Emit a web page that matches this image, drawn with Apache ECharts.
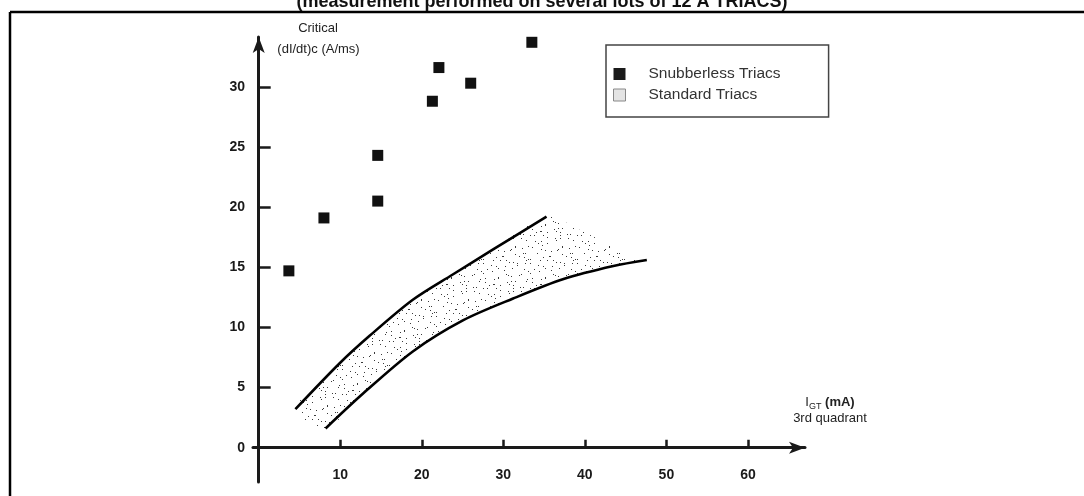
<!DOCTYPE html>
<html>
<head>
<meta charset="utf-8">
<script src="https://cdn.jsdelivr.net/npm/echarts@6/dist/echarts.min.js"></script>
<style>html,body{margin:0;padding:0;background:#fff;}#c{width:1084px;height:496px;}</style>
</head>
<body>
<div id="c"></div>
<script>
// ---- data ----
const titleText = '(measurement performed on several lots of 12 A TRIACS)';
const xTickValues = [10, 20, 30, 40, 50, 60];
const yTickValues = [0, 5, 10, 15, 20, 25, 30];
const seriesNames = ['Snubberless Triacs', 'Standard Triacs'];
// Snubberless triacs measurements (IGT mA, critical dI/dt A/ms)
const snubberlessX = [3.7, 8.0, 14.6, 14.6, 21.3, 22.1, 26.0, 33.5];
const snubberlessY = [14.7, 19.1, 24.3, 20.5, 28.8, 31.6, 30.3, 33.7];
// Standard triacs band: upper and lower boundary curves
const upperX = [4.5, 9.9, 13.6, 18.9, 23.8, 28.8, 35.3];
const upperY = [3.2, 7.0, 9.3, 12.3, 14.4, 16.5, 19.2];
const lowerX = [8.2, 12.8, 18.9, 25.1, 31.2, 37.3, 43.5, 47.6];
const lowerY = [1.6, 4.5, 8.0, 10.6, 12.4, 14.0, 15.1, 15.6];
// dotted right-hand edge of the band (from upper end to lower end)
const edgeX = [39.4, 43.4, 45.5];
const edgeY = [18.1, 16.7, 15.7];

// ---- helpers ----
const zip = (xs, ys) => xs.map((x, i) => [x, ys[i]]);
const upperPts = zip(upperX, upperY);
const lowerPts = zip(lowerX, lowerY);
const edgePts = zip(edgeX, edgeY);
const bandPts = upperPts.concat(edgePts, lowerPts.slice().reverse());

function makeDots() {
  const c = document.createElement('canvas');
  c.width = 47; c.height = 53;
  const ctx = c.getContext('2d');
  ctx.fillStyle = '#3a3a3a';
  for (let i = 0; i < 80; i++) {
    const x = (i * 29 + (i * i) % 7) % 47;
    const y = (i * 17 + (i * i * 3) % 11) % 53;
    ctx.fillRect(x, y, 1, 1);
  }
  return c;
}
const dotPattern = { image: makeDots(), repeat: 'repeat' };

const FONT = '"Liberation Sans", Arial, Helvetica, sans-serif';
const chart = echarts.init(document.getElementById('c'), null, { renderer: 'canvas' });

chart.setOption({
  backgroundColor: '#fff',
  animation: false,
  title: {
    text: titleText,
    left: 'center',
    top: -12,
    textStyle: { fontFamily: FONT, fontSize: 18, fontWeight: 'bold', color: '#111' }
  },
  legend: {
    orient: 'vertical',
    left: 606,
    top: 45,
    padding: [21, 48, 14, 7],
    itemGap: 5,
    itemWidth: 12,
    itemHeight: 12,
    borderColor: '#444',
    borderWidth: 1.5,
    textStyle: { fontFamily: FONT, fontSize: 15.5, color: '#333', padding: [0, 0, 0, 18] },
    data: [
      { name: seriesNames[0], icon: 'rect', itemStyle: { color: '#1a1a1a', opacity: 1 } },
      { name: seriesNames[1], icon: 'rect', itemStyle: { color: '#e4e4e4', borderColor: '#888', borderWidth: 1, opacity: 1 } }
    ]
  },
  grid: { left: 253, right: 279, top: 37, bottom: 14, containLabel: false, outerBoundsMode: 'none' },
  xAxis: {
    type: 'value',
    min: -0.7,
    max: 67,
    axisLine: { onZero: true, symbol: ['none', 'arrow'], symbolSize: [9, 16], lineStyle: { color: '#1a1a1a', width: 3 } },
    axisTick: { show: true, inside: true, length: 8, customValues: xTickValues, lineStyle: { color: '#1a1a1a', width: 2.5 } },
    axisLabel: { customValues: xTickValues, margin: -13.8, fontFamily: FONT, fontSize: 14, fontWeight: 'bold', color: '#1a1a1a' },
    splitLine: { show: false }
  },
  yAxis: {
    type: 'value',
    min: -2.85,
    max: 34.14,
    axisLine: { onZero: true, symbol: ['none', 'arrow'], symbolSize: [9, 16], lineStyle: { color: '#1a1a1a', width: 3 } },
    axisTick: { show: true, inside: true, length: 12, customValues: yTickValues, lineStyle: { color: '#1a1a1a', width: 2.5 } },
    axisLabel: { customValues: yTickValues, margin: 8, fontFamily: FONT, fontSize: 14, fontWeight: 'bold', color: '#1a1a1a' },
    splitLine: { show: false }
  },
  graphic: [
    { type: 'line', shape: { x1: 10, y1: 12, x2: 1084, y2: 12 }, style: { stroke: '#000', lineWidth: 2.5 }, silent: true },
    { type: 'line', shape: { x1: 10, y1: 12, x2: 10, y2: 496 }, style: { stroke: '#000', lineWidth: 2.5 }, silent: true },
    { type: 'text', x: 318, y: 28, style: { text: 'Critical', font: '13px ' + FONT, fill: '#222', align: 'center', verticalAlign: 'middle' } },
    { type: 'text', x: 318.5, y: 49, style: { text: '(dI/dt)c (A/ms)', font: '13px ' + FONT, fill: '#222', align: 'center', verticalAlign: 'middle' } },
    { type: 'text', x: 830, y: 402, style: {
        text: '{i|I}{s|GT}{n| (mA)}',
        align: 'center', verticalAlign: 'middle',
        rich: {
          i: { fontFamily: FONT, fontSize: 13, fill: '#222', verticalAlign: 'bottom' },
          s: { fontFamily: FONT, fontSize: 9, fill: '#222', verticalAlign: 'bottom', padding: [0, 0, -3, 0] },
          n: { fontFamily: FONT, fontSize: 13, fill: '#222', fontWeight: 'bold', verticalAlign: 'bottom' }
        } } },
    { type: 'text', x: 830, y: 418, style: { text: '3rd quadrant', font: '13px ' + FONT, fill: '#222', align: 'center', verticalAlign: 'middle' } }
  ],
  series: [
    {
      name: seriesNames[1],
      type: 'custom',
      coordinateSystem: 'cartesian2d',
      data: bandPts,
      encode: { x: 0, y: 1 },
      itemStyle: { color: '#e4e4e4' },
      z: 1,
      renderItem: function (params, api) {
        if (params.dataIndex !== 0) return null;
        const poly = bandPts.map(p => api.coord(p));
        const up = upperPts.map(p => api.coord(p));
        const lo = lowerPts.map(p => api.coord(p));
        return {
          type: 'group',
          children: [
            { type: 'polygon', shape: { points: poly, smooth: 0.3 }, style: { fill: dotPattern, stroke: null } },
            { type: 'polyline', shape: { points: up, smooth: 0.3 }, style: { stroke: '#000', lineWidth: 2.6, fill: null } },
            { type: 'polyline', shape: { points: lo, smooth: 0.3 }, style: { stroke: '#000', lineWidth: 2.6, fill: null } }
          ]
        };
      }
    },
    {
      name: seriesNames[0],
      type: 'scatter',
      symbol: 'rect',
      symbolSize: 11,
      clip: false,
      z: 3,
      itemStyle: { color: '#111', opacity: 1 },
      data: zip(snubberlessX, snubberlessY)
    }
  ]
});
</script>
</body>
</html>
